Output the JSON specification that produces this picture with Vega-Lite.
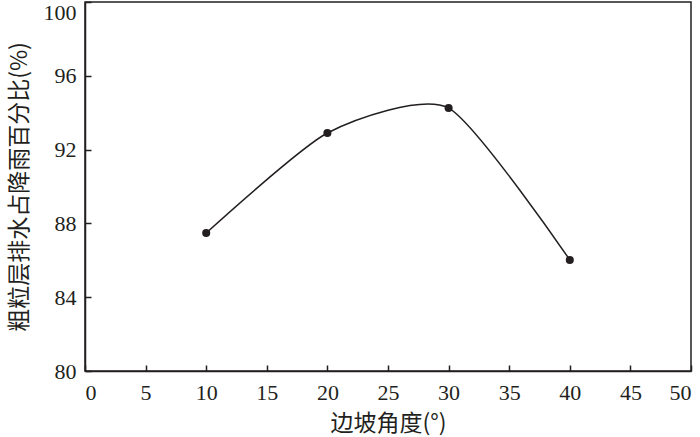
{
  "$schema": "https://vega.github.io/schema/vega-lite/v6.json",
  "width": 606,
  "height": 369,
  "autosize": {"type": "none"},
  "padding": {"left": 85, "top": 2, "right": 9, "bottom": 66},
  "background": "white",
  "config": {
    "view": {"stroke": "#231f20", "strokeWidth": 1.5},
    "axis": {
      "domainColor": "#231f20",
      "domainWidth": 1.5,
      "tickColor": "#231f20",
      "tickWidth": 1.5,
      "tickSize": -6,
      "grid": false,
      "labelFont": "Liberation Serif",
      "labelFontSize": 22,
      "labelColor": "#231f20",
      "titleFont": "Noto Sans CJK SC",
      "titleFontSize": 23,
      "titleFontWeight": "normal",
      "titleColor": "#231f20"
    }
  },
  "data": {
    "values": [
      {"angle": 10, "pct": 87.48},
      {"angle": 20, "pct": 92.9},
      {"angle": 30, "pct": 94.25},
      {"angle": 40, "pct": 86.02}
    ]
  },
  "layer": [
    {
      "mark": {"type": "line", "interpolate": "cardinal", "tension": 0.35, "color": "#231f20", "strokeWidth": 1.5},
      "encoding": {
        "x": {
          "field": "angle", "type": "quantitative",
          "scale": {"domain": [0, 50], "nice": false, "zero": false},
          "axis": {"values": [0, 5, 10, 15, 20, 25, 30, 35, 40, 45, 50], "title": "边坡角度(°)", "labelPadding": 17, "titlePadding": 9}
        },
        "y": {
          "field": "pct", "type": "quantitative",
          "scale": {"domain": [80, 100], "nice": false, "zero": false},
          "axis": {
            "values": [80, 84, 88, 92, 96, 100],
            "title": "粗粒层排水占降雨百分比(%)",
            "labelPadding": 15,
            "labelBaseline": {"condition": {"test": "datum.value == 100", "value": "top"}, "value": "middle"},
            "titlePadding": 12
          }
        }
      }
    },
    {
      "mark": {"type": "point", "filled": true, "color": "#231f20", "size": 65, "opacity": 1},
      "encoding": {
        "x": {"field": "angle", "type": "quantitative"},
        "y": {"field": "pct", "type": "quantitative"}
      }
    }
  ]
}
